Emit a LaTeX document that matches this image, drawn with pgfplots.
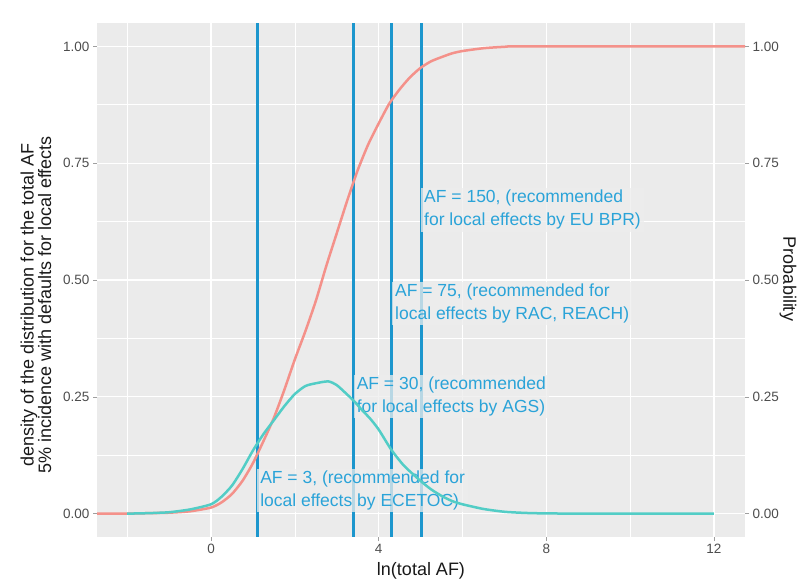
\documentclass[border=0pt]{standalone}
\usepackage{pgfplots}
\pgfplotsset{compat=1.18}
\usepackage{fontspec}
\setmainfont{Liberation Sans}
\definecolor{ggbg}{HTML}{EBEBEB}
\definecolor{ggred}{HTML}{F4918A}
\definecolor{ggcyan}{HTML}{52CDC6}
\definecolor{vline}{HTML}{1C96CD}
\definecolor{labtxt}{HTML}{2AA3D8}
\definecolor{tickgrey}{HTML}{4D4D4D}
\tikzset{
  lab/.style={anchor=west, align=left, font=\fontsize{17.5bp}{23bp}\selectfont,
    text=labtxt, fill={rgb,255:red,237;green,237;blue,237}, fill opacity=0.75,
    text opacity=1, inner xsep=3bp, inner ysep=2bp},
}
\pgfplotsset{
  ggbase/.style={
    scale only axis, width=648bp, height=514bp,
    xmin=-2.72, xmax=12.74, ymin=-0.05, ymax=1.05,
    ytick={0,0.25,0.5,0.75,1}, yticklabels={0.00,0.25,0.50,0.75,1.00},
    tick label style={font=\fontsize{13.5bp}{16bp}\selectfont, text=tickgrey},
    tick style={draw=gray!75, line width=0.6bp},
    tick align=outside, major tick length=4bp, minor tick length=0pt,
    axis line style={draw=none},
  },
}

\begin{document}
\begin{tikzpicture}
\begin{axis}[ggbase,
  axis background/.style={fill=ggbg},
  xtick={0,4,8,12}, xticklabels={0,4,8,12},
  minor xtick={-2,2,6,10}, minor ytick={0.125,0.375,0.625,0.875},
  grid=both,
  major grid style={draw=white, line width=1.1bp},
  minor grid style={draw=white, line width=0.55bp},
  tick pos=left,
]
% vertical reference lines: ln(3), ln(30), ln(75), ln(150)
\addplot[vline, line width=3bp] coordinates {(1.0986,-0.05) (1.0986,1.05)};
\addplot[vline, line width=3bp] coordinates {(3.4012,-0.05) (3.4012,1.05)};
\addplot[vline, line width=3bp] coordinates {(4.3175,-0.05) (4.3175,1.05)};
\addplot[vline, line width=3bp] coordinates {(5.0106,-0.05) (5.0106,1.05)};

\node[lab] at (axis cs:1.0986,0.05) {AF = 3, (recommended for\\local effects by ECETOC)};
\node[lab] at (axis cs:3.4012,0.25) {AF = 30, (recommended\\for local effects by AGS)};
\node[lab] at (axis cs:4.3175,0.45) {AF = 75, (recommended for\\local effects by RAC, REACH)};
\node[lab] at (axis cs:5.0106,0.65) {AF = 150, (recommended\\for local effects by EU BPR)};

% probability (cumulative)
\addplot[ggred, line width=2.5bp, smooth, tension=0.4] coordinates {
  (-2.72,0) (-2,0) (-1.5,0.001) (-1,0.002) (-0.5,0.005) (0,0.013) (0.25,0.024)
  (0.5,0.042) (0.75,0.07) (1.0,0.108) (1.25,0.155) (1.5,0.205)
  (1.75,0.265) (2.0,0.33) (2.25,0.39) (2.5,0.455) (2.75,0.53)
  (3.0,0.60) (3.25,0.67) (3.5,0.735) (3.75,0.79) (4.0,0.835) (4.25,0.877)
  (4.5,0.908) (4.75,0.934) (5.0,0.954) (5.25,0.968) (5.5,0.977) (5.75,0.985)
  (6.0,0.99) (6.5,0.996) (7.0,0.999) (7.5,1.0) (12.74,1.0)
};
% density
\addplot[ggcyan, line width=2.5bp, smooth, tension=0.4] coordinates {
  (-2,0) (-1.5,0.001) (-1,0.003) (-0.5,0.009) (0,0.02) (0.25,0.036) (0.5,0.06)
  (0.75,0.095) (1.0,0.135) (1.25,0.17) (1.5,0.2) (1.75,0.23)
  (2.0,0.256) (2.25,0.273) (2.5,0.279) (2.8,0.283) (3.0,0.275) (3.2,0.259)
  (3.4,0.242) (3.6,0.222) (3.8,0.203) (4.0,0.18) (4.3,0.137) (4.6,0.103)
  (5.0,0.07) (5.25,0.052) (5.5,0.038) (5.75,0.027) (6.0,0.02) (6.5,0.01)
  (7.0,0.004) (7.5,0.0015) (8,0.0005) (9,0) (12,0)
};
\end{axis}
\begin{axis}[ggbase, axis x line=none, axis y line*=right, xtick=\empty]
\end{axis}

\node[rotate=90, align=center, font=\fontsize{18bp}{17.5bp}\selectfont, text=black!90]
  at (-61bp,232bp) {density of the distribution for the total AF\\5\% incidence with defaults for local effects};
\node[font=\fontsize{18bp}{20bp}\selectfont, text=black!90] at (324bp,-34bp) {ln(total AF)};
\node[rotate=-90, font=\fontsize{18bp}{20bp}\selectfont, text=black!90] at (691bp,258bp) {Probability};

\pgfresetboundingbox
\useasboundingbox (-97bp,-43bp) rectangle (701bp,537bp);
\end{tikzpicture}
\end{document}
